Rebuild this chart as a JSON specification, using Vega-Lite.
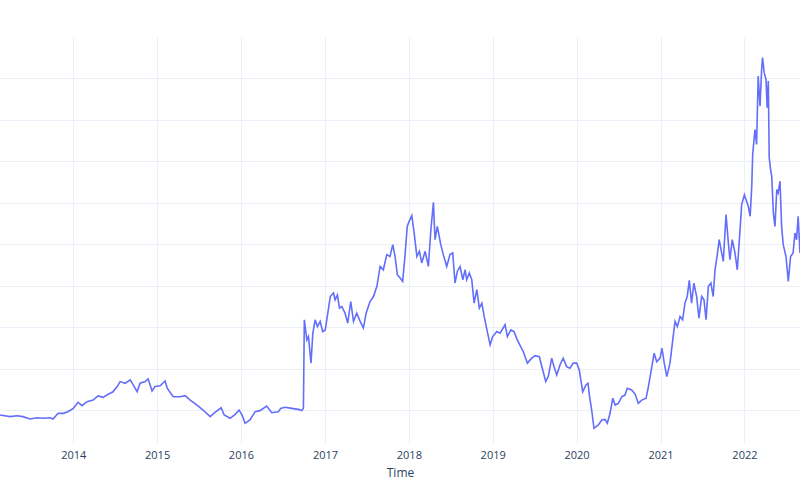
{
  "$schema": "https://vega.github.io/schema/vega-lite/v6.json",
  "width": 800,
  "height": 406,
  "autosize": {"type": "none"},
  "padding": {"top": 37, "left": 0, "right": 0, "bottom": 57},
  "background": "white",
  "config": {
    "view": {"stroke": null},
    "font": "Open Sans"
  },
  "data": {
    "values": [
      {"Time": "2013-02-16", "Value": 17.6},
      {"Time": "2013-04-01", "Value": 16.8},
      {"Time": "2013-05-01", "Value": 17.2},
      {"Time": "2013-05-27", "Value": 16.8},
      {"Time": "2013-06-27", "Value": 15.7},
      {"Time": "2013-07-27", "Value": 16.3},
      {"Time": "2013-08-22", "Value": 16.0},
      {"Time": "2013-09-22", "Value": 16.3},
      {"Time": "2013-10-05", "Value": 15.7},
      {"Time": "2013-10-27", "Value": 18.4},
      {"Time": "2013-11-18", "Value": 18.4},
      {"Time": "2013-12-09", "Value": 19.2},
      {"Time": "2014-01-01", "Value": 20.8},
      {"Time": "2014-01-22", "Value": 23.7},
      {"Time": "2014-02-08", "Value": 22.1},
      {"Time": "2014-03-02", "Value": 24.0},
      {"Time": "2014-03-28", "Value": 24.8},
      {"Time": "2014-04-19", "Value": 26.8},
      {"Time": "2014-05-11", "Value": 26.1},
      {"Time": "2014-06-02", "Value": 27.6},
      {"Time": "2014-06-23", "Value": 28.8},
      {"Time": "2014-07-11", "Value": 31.3},
      {"Time": "2014-07-24", "Value": 33.7},
      {"Time": "2014-08-15", "Value": 32.9},
      {"Time": "2014-09-06", "Value": 34.5},
      {"Time": "2014-09-19", "Value": 32.1},
      {"Time": "2014-10-06", "Value": 28.8},
      {"Time": "2014-10-19", "Value": 32.9},
      {"Time": "2014-11-10", "Value": 33.7},
      {"Time": "2014-11-23", "Value": 35.0},
      {"Time": "2014-12-10", "Value": 29.2},
      {"Time": "2014-12-23", "Value": 31.3},
      {"Time": "2015-01-14", "Value": 31.7},
      {"Time": "2015-02-05", "Value": 34.0},
      {"Time": "2015-02-14", "Value": 30.5},
      {"Time": "2015-03-12", "Value": 26.4},
      {"Time": "2015-04-11", "Value": 26.4},
      {"Time": "2015-05-03", "Value": 26.9},
      {"Time": "2015-05-25", "Value": 24.8},
      {"Time": "2015-06-24", "Value": 22.4},
      {"Time": "2015-07-20", "Value": 20.0},
      {"Time": "2015-08-20", "Value": 16.8},
      {"Time": "2015-09-10", "Value": 18.9},
      {"Time": "2015-10-07", "Value": 21.1},
      {"Time": "2015-10-20", "Value": 17.6},
      {"Time": "2015-11-15", "Value": 16.0},
      {"Time": "2015-12-07", "Value": 17.9},
      {"Time": "2015-12-24", "Value": 20.0},
      {"Time": "2016-01-06", "Value": 17.6},
      {"Time": "2016-01-19", "Value": 13.6},
      {"Time": "2016-02-09", "Value": 15.2},
      {"Time": "2016-03-03", "Value": 19.2},
      {"Time": "2016-03-24", "Value": 19.7},
      {"Time": "2016-04-22", "Value": 21.9},
      {"Time": "2016-05-14", "Value": 18.7},
      {"Time": "2016-06-12", "Value": 19.2},
      {"Time": "2016-06-22", "Value": 20.8},
      {"Time": "2016-07-11", "Value": 21.3},
      {"Time": "2016-08-09", "Value": 20.8},
      {"Time": "2016-09-07", "Value": 20.3},
      {"Time": "2016-09-22", "Value": 19.7},
      {"Time": "2016-09-29", "Value": 20.8},
      {"Time": "2016-10-03", "Value": 63.5},
      {"Time": "2016-10-14", "Value": 53.8},
      {"Time": "2016-10-21", "Value": 55.4},
      {"Time": "2016-11-01", "Value": 42.6},
      {"Time": "2016-11-09", "Value": 57.0},
      {"Time": "2016-11-19", "Value": 63.5},
      {"Time": "2016-11-29", "Value": 60.2},
      {"Time": "2016-12-11", "Value": 62.7},
      {"Time": "2016-12-22", "Value": 57.8},
      {"Time": "2017-01-02", "Value": 58.6},
      {"Time": "2017-01-12", "Value": 65.9},
      {"Time": "2017-01-24", "Value": 74.7},
      {"Time": "2017-02-07", "Value": 76.4},
      {"Time": "2017-02-14", "Value": 73.1},
      {"Time": "2017-02-24", "Value": 75.5},
      {"Time": "2017-03-05", "Value": 69.1},
      {"Time": "2017-03-15", "Value": 69.9},
      {"Time": "2017-03-29", "Value": 66.7},
      {"Time": "2017-04-10", "Value": 61.9},
      {"Time": "2017-04-23", "Value": 72.3},
      {"Time": "2017-05-05", "Value": 62.7},
      {"Time": "2017-05-19", "Value": 66.7},
      {"Time": "2017-06-03", "Value": 62.7},
      {"Time": "2017-06-17", "Value": 59.5},
      {"Time": "2017-06-29", "Value": 66.7},
      {"Time": "2017-07-16", "Value": 72.3},
      {"Time": "2017-07-31", "Value": 74.7},
      {"Time": "2017-08-15", "Value": 79.6},
      {"Time": "2017-08-29", "Value": 89.2},
      {"Time": "2017-09-12", "Value": 87.6},
      {"Time": "2017-09-27", "Value": 94.9},
      {"Time": "2017-10-11", "Value": 94.0},
      {"Time": "2017-10-23", "Value": 99.7},
      {"Time": "2017-11-02", "Value": 94.0},
      {"Time": "2017-11-12", "Value": 85.2},
      {"Time": "2017-11-24", "Value": 83.6},
      {"Time": "2017-12-05", "Value": 82.0},
      {"Time": "2017-12-15", "Value": 94.0},
      {"Time": "2017-12-25", "Value": 108.5},
      {"Time": "2018-01-02", "Value": 110.9},
      {"Time": "2018-01-14", "Value": 113.7},
      {"Time": "2018-01-24", "Value": 105.4},
      {"Time": "2018-02-05", "Value": 94.0},
      {"Time": "2018-02-16", "Value": 96.5},
      {"Time": "2018-02-26", "Value": 90.9},
      {"Time": "2018-03-13", "Value": 96.5},
      {"Time": "2018-03-27", "Value": 89.2},
      {"Time": "2018-04-07", "Value": 106.9},
      {"Time": "2018-04-18", "Value": 120.1},
      {"Time": "2018-04-25", "Value": 102.1},
      {"Time": "2018-05-05", "Value": 108.5},
      {"Time": "2018-05-20", "Value": 99.7},
      {"Time": "2018-05-31", "Value": 94.9},
      {"Time": "2018-06-15", "Value": 89.2},
      {"Time": "2018-06-29", "Value": 94.9},
      {"Time": "2018-07-11", "Value": 95.7},
      {"Time": "2018-07-21", "Value": 81.2},
      {"Time": "2018-07-31", "Value": 86.8},
      {"Time": "2018-08-12", "Value": 89.2},
      {"Time": "2018-08-24", "Value": 82.8},
      {"Time": "2018-09-03", "Value": 87.6},
      {"Time": "2018-09-10", "Value": 82.8},
      {"Time": "2018-09-21", "Value": 86.0},
      {"Time": "2018-10-02", "Value": 82.8},
      {"Time": "2018-10-12", "Value": 71.5},
      {"Time": "2018-10-24", "Value": 78.0},
      {"Time": "2018-11-04", "Value": 69.1},
      {"Time": "2018-11-15", "Value": 71.5},
      {"Time": "2018-11-25", "Value": 65.1},
      {"Time": "2018-12-07", "Value": 58.6},
      {"Time": "2018-12-21", "Value": 51.4},
      {"Time": "2019-01-01", "Value": 55.4},
      {"Time": "2019-01-19", "Value": 57.8},
      {"Time": "2019-02-02", "Value": 57.0},
      {"Time": "2019-02-24", "Value": 61.1},
      {"Time": "2019-03-06", "Value": 55.4},
      {"Time": "2019-03-21", "Value": 58.6},
      {"Time": "2019-04-04", "Value": 57.8},
      {"Time": "2019-04-18", "Value": 53.8},
      {"Time": "2019-05-03", "Value": 50.6},
      {"Time": "2019-05-14", "Value": 48.2},
      {"Time": "2019-06-01", "Value": 42.6},
      {"Time": "2019-06-20", "Value": 45.0},
      {"Time": "2019-07-04", "Value": 46.2},
      {"Time": "2019-07-23", "Value": 45.7},
      {"Time": "2019-08-07", "Value": 39.3},
      {"Time": "2019-08-20", "Value": 33.7},
      {"Time": "2019-08-31", "Value": 36.1},
      {"Time": "2019-09-15", "Value": 45.0},
      {"Time": "2019-09-25", "Value": 40.9},
      {"Time": "2019-10-07", "Value": 36.9},
      {"Time": "2019-10-21", "Value": 41.7},
      {"Time": "2019-11-04", "Value": 45.0},
      {"Time": "2019-11-19", "Value": 40.9},
      {"Time": "2019-12-03", "Value": 40.1},
      {"Time": "2019-12-18", "Value": 42.6},
      {"Time": "2020-01-02", "Value": 42.6},
      {"Time": "2020-01-13", "Value": 39.3},
      {"Time": "2020-01-28", "Value": 28.8},
      {"Time": "2020-02-11", "Value": 32.1},
      {"Time": "2020-02-20", "Value": 32.9},
      {"Time": "2020-02-26", "Value": 27.2},
      {"Time": "2020-03-07", "Value": 20.0},
      {"Time": "2020-03-17", "Value": 11.2},
      {"Time": "2020-04-05", "Value": 12.8},
      {"Time": "2020-04-20", "Value": 15.2},
      {"Time": "2020-05-04", "Value": 15.5},
      {"Time": "2020-05-14", "Value": 13.6},
      {"Time": "2020-05-26", "Value": 18.4},
      {"Time": "2020-06-07", "Value": 25.7},
      {"Time": "2020-06-17", "Value": 22.4},
      {"Time": "2020-07-01", "Value": 23.2},
      {"Time": "2020-07-16", "Value": 26.4},
      {"Time": "2020-07-30", "Value": 27.2},
      {"Time": "2020-08-09", "Value": 30.5},
      {"Time": "2020-08-28", "Value": 29.7},
      {"Time": "2020-09-12", "Value": 27.7},
      {"Time": "2020-09-26", "Value": 23.2},
      {"Time": "2020-10-11", "Value": 24.8},
      {"Time": "2020-10-30", "Value": 25.7},
      {"Time": "2020-11-09", "Value": 31.3},
      {"Time": "2020-11-24", "Value": 40.9},
      {"Time": "2020-12-04", "Value": 47.4},
      {"Time": "2020-12-15", "Value": 43.3},
      {"Time": "2020-12-30", "Value": 45.0},
      {"Time": "2021-01-07", "Value": 49.8},
      {"Time": "2021-01-17", "Value": 42.6},
      {"Time": "2021-01-28", "Value": 36.1},
      {"Time": "2021-02-11", "Value": 42.6},
      {"Time": "2021-02-23", "Value": 53.8},
      {"Time": "2021-03-05", "Value": 62.7},
      {"Time": "2021-03-15", "Value": 60.2},
      {"Time": "2021-03-27", "Value": 65.1},
      {"Time": "2021-04-07", "Value": 63.5},
      {"Time": "2021-04-17", "Value": 71.5},
      {"Time": "2021-04-27", "Value": 74.7},
      {"Time": "2021-05-06", "Value": 82.5},
      {"Time": "2021-05-16", "Value": 71.5},
      {"Time": "2021-05-26", "Value": 81.2},
      {"Time": "2021-06-07", "Value": 74.7},
      {"Time": "2021-06-17", "Value": 64.3},
      {"Time": "2021-06-29", "Value": 74.7},
      {"Time": "2021-07-09", "Value": 73.1},
      {"Time": "2021-07-18", "Value": 63.5},
      {"Time": "2021-07-28", "Value": 79.6},
      {"Time": "2021-08-08", "Value": 81.2},
      {"Time": "2021-08-18", "Value": 74.7},
      {"Time": "2021-08-26", "Value": 87.6},
      {"Time": "2021-09-05", "Value": 94.9},
      {"Time": "2021-09-13", "Value": 102.1},
      {"Time": "2021-09-24", "Value": 95.7},
      {"Time": "2021-10-01", "Value": 91.6},
      {"Time": "2021-10-13", "Value": 114.2},
      {"Time": "2021-10-23", "Value": 100.5},
      {"Time": "2021-10-30", "Value": 92.5},
      {"Time": "2021-11-09", "Value": 102.1},
      {"Time": "2021-11-21", "Value": 95.7},
      {"Time": "2021-12-01", "Value": 87.6},
      {"Time": "2021-12-13", "Value": 106.9},
      {"Time": "2021-12-20", "Value": 119.0},
      {"Time": "2022-01-01", "Value": 123.8},
      {"Time": "2022-01-08", "Value": 121.4},
      {"Time": "2022-01-18", "Value": 118.2},
      {"Time": "2022-01-26", "Value": 113.4},
      {"Time": "2022-02-02", "Value": 127.9},
      {"Time": "2022-02-06", "Value": 143.2},
      {"Time": "2022-02-16", "Value": 155.2},
      {"Time": "2022-02-23", "Value": 148.0},
      {"Time": "2022-03-02", "Value": 181.0},
      {"Time": "2022-03-10", "Value": 166.5},
      {"Time": "2022-03-17", "Value": 184.2},
      {"Time": "2022-03-21", "Value": 189.9},
      {"Time": "2022-03-28", "Value": 182.6},
      {"Time": "2022-04-05", "Value": 179.4},
      {"Time": "2022-04-10", "Value": 165.7},
      {"Time": "2022-04-15", "Value": 178.6},
      {"Time": "2022-04-19", "Value": 141.6},
      {"Time": "2022-04-25", "Value": 135.9},
      {"Time": "2022-04-30", "Value": 132.7},
      {"Time": "2022-05-07", "Value": 115.0},
      {"Time": "2022-05-14", "Value": 108.5},
      {"Time": "2022-05-22", "Value": 126.3},
      {"Time": "2022-05-28", "Value": 124.7},
      {"Time": "2022-06-05", "Value": 130.3},
      {"Time": "2022-06-12", "Value": 108.5},
      {"Time": "2022-06-19", "Value": 99.7},
      {"Time": "2022-07-01", "Value": 94.0},
      {"Time": "2022-07-11", "Value": 82.0},
      {"Time": "2022-07-21", "Value": 94.0},
      {"Time": "2022-08-01", "Value": 95.7},
      {"Time": "2022-08-09", "Value": 105.3},
      {"Time": "2022-08-16", "Value": 102.1},
      {"Time": "2022-08-23", "Value": 113.4},
      {"Time": "2022-08-31", "Value": 95.7}
    ]
  },
  "mark": {"type": "line", "color": "#636EFA", "strokeWidth": 1.6, "clip": true},
  "encoding": {
    "x": {
      "field": "Time",
      "type": "temporal",
      "title": "Time",
      "scale": {"domain": ["2013-02-16", "2022-08-31"], "nice": false},
      "axis": {
        "format": "%Y",
        "tickCount": {"interval": "year", "step": 1},
        "domain": false,
        "ticks": false,
        "grid": true,
        "gridColor": "#EBF0F8",
        "gridWidth": 1,
        "labelColor": "#2a3f5f",
        "labelFontSize": 11,
        "labelFont": "Open Sans",
        "labelPadding": 6,
        "labelFlush": false,
        "labelOverlap": false,
        "titleColor": "#2a3f5f",
        "titleFontSize": 12,
        "titleFont": "Open Sans",
        "titleFontWeight": "normal",
        "titlePadding": 7
      }
    },
    "y": {
      "field": "Value",
      "type": "quantitative",
      "scale": {"domain": [4.1, 199.8], "nice": false, "zero": false},
      "axis": {
        "values": [20, 40, 60, 80, 100, 120, 140, 160, 180],
        "labels": false,
        "domain": false,
        "ticks": false,
        "title": null,
        "grid": true,
        "gridColor": "#EBF0F8",
        "gridWidth": 1
      }
    }
  }
}
